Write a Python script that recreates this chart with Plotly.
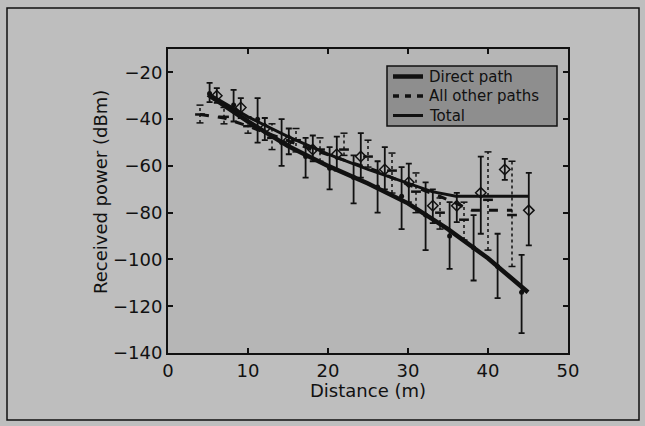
import plotly.graph_objects as go

# ---- model curves ----
direct_x = [5, 10, 15, 20, 25, 30, 35, 40, 45]
direct_y = [-29.5, -41, -51.5, -60, -67.5, -76, -87, -99.5, -114]

other_x = [4, 7, 10, 14, 18, 22, 26, 30, 34, 38, 43]
other_y = [-38, -39.5, -43, -48, -53, -57.5, -62, -68, -73, -79, -79]

total_x = [5, 10, 15, 20, 25, 30, 33, 36, 45]
total_y = [-29, -39, -47.5, -55, -61.5, -67.5, -71, -73, -73]

# ---- measurements (with min / max) ----
dm_x = [5.2, 8.2, 11.2, 14.2, 17.2, 20.2, 23.2, 26.2, 29.2, 32.2, 35.2, 38.2, 41.2, 44.2]
dm_y = [-29, -34, -40, -50, -56, -61, -65, -69, -73, -81, -90, -95, -103, -114]
dm_hi = [-24.5, -27.5, -31, -40, -48, -52, -55.5, -58, -60.5, -67, -75.5, -81, -89, -98]
dm_lo = [-32.7, -41, -50, -60, -65, -70, -76, -80, -87, -96, -104, -109, -116.5, -131.5]

tm_x = [6.1, 9.1, 12.1, 15.1, 18.1, 21.1, 24.1, 27.1, 30.1, 33.1, 36.1, 39.1, 42.1, 45.1]
tm_y = [-30, -35, -44, -49, -53, -55, -56, -61.5, -67, -77, -77, -71.5, -61.5, -79]
tm_hi = [-26.7, -31, -39.5, -44, -47, -47.5, -46, -52, -59, -70, -71.5, -56, -57, -63]
tm_lo = [-33, -39.5, -49, -55, -58, -62, -65, -70, -75.5, -84.5, -84, -89, -66, -94]

om_x = [4, 7, 10, 13, 16, 19, 22, 25, 28, 31, 34, 37, 40, 43]
om_y = [-38, -39, -43, -48, -49, -53, -53, -56, -62, -71, -80, -83, -74.5, -81]
om_hi = [-34, -35, -39, -42, -44, -48, -46, -49, -54.5, -63, -73.7, -75.5, -54, -58]
om_lo = [-41.6, -42, -46, -53, -54, -58, -55.5, -60.5, -71.6, -80, -87, -91.7, -96, -103]

x_ticks = [0, 10, 20, 30, 40, 50]
y_ticks = [-140, -120, -100, -80, -60, -40, -20]

legend_names = ["Direct path", "All other paths", "Total"]

INK = "#111111"
FONT = "DejaVu Sans"

fig = go.Figure()

# dotted error bars for "other paths" measurements
ebx, eby = [], []
for x, lo, hi in zip(om_x, om_lo, om_hi):
    ebx += [x, x, None]
    eby += [lo, hi, None]
fig.add_trace(go.Scatter(x=ebx, y=eby, mode="lines",
                         line=dict(color=INK, width=1.5, dash="dot"),
                         showlegend=False, hoverinfo="skip"))
fig.add_trace(go.Scatter(x=om_x + om_x, y=om_lo + om_hi, mode="markers",
                         marker=dict(symbol="line-ew", size=5,
                                     line=dict(color=INK, width=1.5)),
                         showlegend=False, hoverinfo="skip"))
fig.add_trace(go.Scatter(x=om_x, y=om_y, mode="markers",
                         marker=dict(symbol="line-ew", size=7,
                                     line=dict(color=INK, width=2.5)),
                         showlegend=False, hoverinfo="skip"))

# direct path measurements
fig.add_trace(go.Scatter(
    x=dm_x, y=dm_y, mode="markers",
    marker=dict(symbol="circle", size=5, color=INK),
    error_y=dict(type="data", symmetric=False,
                 array=[h - c for h, c in zip(dm_hi, dm_y)],
                 arrayminus=[c - l for l, c in zip(dm_lo, dm_y)],
                 color=INK, thickness=1.8, width=3),
    showlegend=False, hoverinfo="skip"))

# total measurements
fig.add_trace(go.Scatter(
    x=tm_x, y=tm_y, mode="markers",
    marker=dict(symbol="diamond-open", size=8, color=INK,
                line=dict(color=INK, width=1.5)),
    error_y=dict(type="data", symmetric=False,
                 array=[h - c for h, c in zip(tm_hi, tm_y)],
                 arrayminus=[c - l for l, c in zip(tm_lo, tm_y)],
                 color=INK, thickness=1.8, width=3),
    showlegend=False, hoverinfo="skip"))

# model lines
fig.add_trace(go.Scatter(x=direct_x, y=direct_y, mode="lines", name=legend_names[0],
                         line=dict(color=INK, width=4.5), showlegend=False))
fig.add_trace(go.Scatter(x=other_x, y=other_y, mode="lines", name=legend_names[1],
                         line=dict(color=INK, width=3, dash="dash"), showlegend=False))
fig.add_trace(go.Scatter(x=total_x, y=total_y, mode="lines", name=legend_names[2],
                         line=dict(color=INK, width=3), showlegend=False))

L, R, T, B = 168, 77, 49, 73
W, H = 645, 426
pw, ph = W - L - R, H - T - B

def px(xp):
    return (xp - L) / pw

def py(yp):
    return (H - B - yp) / ph

shapes = [
    dict(type="rect", xref="paper", yref="paper",
         x0=px(7), x1=px(639), y0=py(420), y1=py(8),
         line=dict(color=INK, width=1.5), fillcolor="rgba(0,0,0,0)", layer="below"),
    dict(type="rect", xref="paper", yref="paper",
         x0=px(387), x1=px(557), y0=py(126), y1=py(66),
         line=dict(color=INK, width=1.5), fillcolor="#8e8e8e", layer="above"),
]
annotations = []
rows = [76.5, 96, 115.5]
styles = [dict(width=4.5), dict(width=3.5, dash="6px,6px"), dict(width=3)]
for name, ry, st in zip(legend_names, rows, styles):
    shapes.append(dict(type="line", xref="paper", yref="paper",
                       x0=px(393), x1=px(423), y0=py(ry), y1=py(ry),
                       line=dict(color=INK, **st), layer="above"))
    annotations.append(dict(xref="paper", yref="paper", x=px(428), y=py(ry),
                            xanchor="left", yanchor="middle", showarrow=False,
                            text=name, borderpad=0,
                            font=dict(family=FONT, size=15, color=INK)))

annotations.append(dict(xref="paper", yref="paper", x=px(100), y=py(192),
                        xanchor="center", yanchor="middle", showarrow=False,
                        textangle=-90, text="Received power (dBm)",
                        font=dict(family=FONT, size=18, color=INK)))
annotations.append(dict(xref="paper", yref="paper", x=px(368), y=py(390),
                        xanchor="center", yanchor="middle", showarrow=False,
                        text="Distance (m)",
                        font=dict(family=FONT, size=18, color=INK)))

fig.update_layout(
    width=W, height=H,
    margin=dict(l=L, r=R, t=T, b=B),
    paper_bgcolor="#bebebe",
    plot_bgcolor="#b6b6b6",
    font=dict(family=FONT, size=18, color=INK),
    showlegend=False,
    shapes=shapes,
    annotations=annotations,
)

fig.update_xaxes(range=[0, 50], tickvals=x_ticks, ticks="inside", ticklen=5,
                 tickwidth=1.5, tickcolor=INK, showline=True, linecolor=INK,
                 linewidth=2, mirror="ticks", showgrid=False, zeroline=False,
                 tickfont=dict(size=18))
fig.update_yaxes(range=[-140, -10], tickvals=y_ticks, ticks="inside", ticklen=5,
                 tickwidth=1.5, tickcolor=INK, showline=True, linecolor=INK,
                 linewidth=2, mirror="ticks", showgrid=False, zeroline=False,
                 tickfont=dict(size=18))

fig.write_html("out.html")
